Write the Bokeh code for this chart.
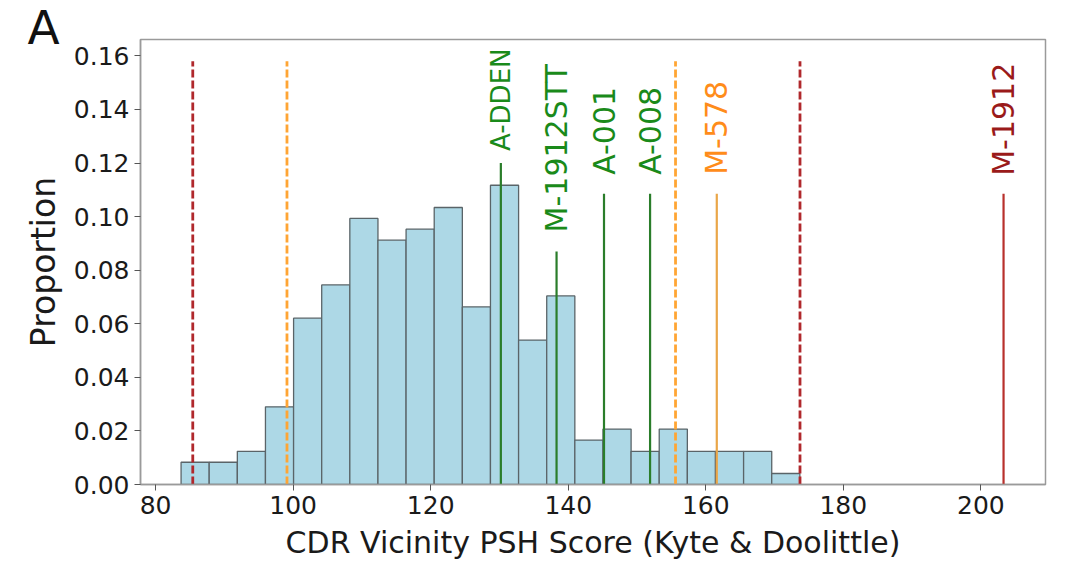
import numpy as np
from bokeh.plotting import figure
from bokeh.models import ColumnDataSource, Range1d, FixedTicker, PrintfTickFormatter
from bokeh.core.properties import value
from bokeh.embed import file_html
from bokeh.resources import INLINE

# ---- data ----
bin_start = 83.7
bin_width = 4.09
proportions = [0.0083, 0.0083, 0.0124, 0.0290, 0.0621, 0.0745, 0.0993, 0.0912,
               0.0953, 0.1034, 0.0663, 0.1117, 0.0539, 0.0704, 0.0166, 0.0207,
               0.0124, 0.0207, 0.0124, 0.0124, 0.0124, 0.0041]

marker_names = ["A-DDEN", "M-1912STT", "A-001", "A-008", "M-578", "M-1912"]
marker_scores = [130.2, 138.3, 145.2, 151.9, 161.6, 203.3]
marker_heights = [0.120, 0.087, 0.1085, 0.1085, 0.1085, 0.1085]

threshold_scores = [85.4, 173.7, 99.1, 155.6]
threshold_height = [0.158, 0.158, 0.158, 0.158]

x_ticks = [80, 100, 120, 140, 160, 180, 200]
y_ticks = [0.00, 0.02, 0.04, 0.06, 0.08, 0.10, 0.12, 0.14, 0.16]

# ---- styling ----
FONT = "DejaVu Sans"
GREEN_LINE, GREEN_TEXT = "#2a7d2a", "#1a8a1a"
ORANGE_LINE, ORANGE_TEXT = "#eaa648", "#ff8c1a"
RED_LINE, RED_TEXT = "#b8302c", "#9a1a1a"
marker_line_colors = [GREEN_LINE] * 4 + [ORANGE_LINE, RED_LINE]
marker_text_colors = [GREEN_TEXT] * 4 + [ORANGE_TEXT, RED_TEXT]
label_font_sizes = ["26px", "30px", "30px", "30px", "30px", "30px"]
label_gaps = [-12, -19, -19, -19, -19, -18]
threshold_colors = ["#b0282c", "#b0282c", "#ffa534", "#ffa534"]

p = figure(width=1080, height=568, output_backend="svg", toolbar_location=None,
           x_range=Range1d(77.8, 209.4), y_range=Range1d(0, 0.1661),
           min_border_left=140, min_border_right=35, min_border_top=39,
           min_border_bottom=84)
p.background_fill_color = "white"
p.border_fill_color = "white"
p.outline_line_color = "#9a9a9a"
p.outline_line_width = 1.5
p.grid.visible = False

# panel letter as the plot title
p.title.text = "A"
p.title.align = "left"
p.title.offset = -113
p.title.standoff = -30
p.title.text_font = FONT
p.title.text_font_size = "47px"
p.title.text_font_style = "normal"
p.title.text_color = "#111111"

lefts = [bin_start + i * bin_width for i in range(len(proportions))]
rights = [l + bin_width for l in lefts]
bars = ColumnDataSource(dict(left=lefts, right=rights, top=proportions,
                             bottom=[0] * len(proportions)))
p.quad(left="left", right="right", top="top", bottom="bottom", source=bars,
       fill_color="#add8e6", line_color="#5a6468", line_width=1.3)

thr = ColumnDataSource(dict(x=threshold_scores, y0=[0] * 4, y1=threshold_height,
                            c=threshold_colors))
p.segment(x0="x", y0="y0", x1="x", y1="y1", source=thr, line_color="c",
          line_width=2.8, line_dash="8 3")

mk = ColumnDataSource(dict(x=marker_scores, y0=[0] * len(marker_scores),
                           y1=marker_heights, c=marker_line_colors,
                           tc=marker_text_colors, name=marker_names,
                           fs=label_font_sizes, off=label_gaps))
p.segment(x0="x", y0="y0", x1="x", y1="y1", source=mk, line_color="c",
          line_width=2.2)
p.text(x="x", y="y1", text="name", source=mk, angle=np.pi / 2,
       text_align="left", text_baseline="middle", y_offset="off",
       text_color="tc", text_font=value(FONT), text_font_size="fs")

p.xaxis.ticker = FixedTicker(ticks=x_ticks)
p.yaxis.ticker = FixedTicker(ticks=y_ticks)
p.yaxis.formatter = PrintfTickFormatter(format="%.2f")
for ax in (p.xaxis[0], p.yaxis[0]):
    ax.axis_line_color = "#9a9a9a"
    ax.axis_line_width = 1.5
    ax.major_tick_line_color = "#555555"
    ax.major_tick_out = 6
    ax.major_tick_in = 0
    ax.minor_tick_line_color = None
    ax.major_label_text_font = FONT
    ax.major_label_text_font_size = "25px"
    ax.major_label_text_color = "#1a1a1a"
    ax.axis_label_text_font = FONT
    ax.axis_label_text_font_style = "normal"
    ax.axis_label_text_color = "#1a1a1a"

p.xaxis.axis_label = "CDR Vicinity PSH Score (Kyte & Doolittle)"
p.xaxis.axis_label_text_font_size = "30px"
p.xaxis.axis_label_standoff = 8
p.yaxis.axis_label = "Proportion"
p.yaxis.axis_label_text_font_size = "33px"
p.yaxis.axis_label_standoff = 8

open("out.html", "w").write(file_html(p, INLINE))
